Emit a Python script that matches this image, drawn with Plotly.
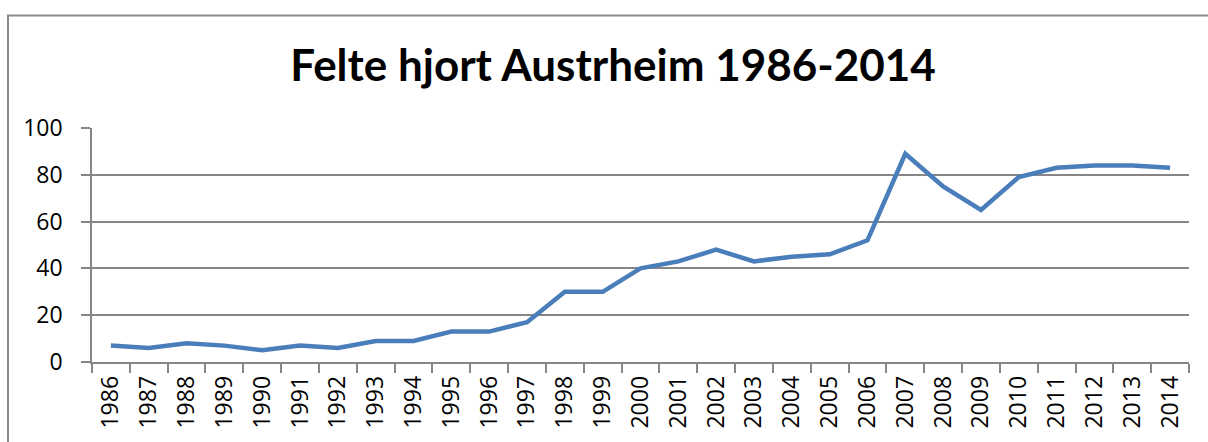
import plotly.graph_objects as go

years = [str(y) for y in range(1986, 2015)]
felte = [7, 6, 8, 7, 5, 7, 6, 9, 9, 13, 13, 17, 30, 30, 40, 43, 48, 43, 45, 46, 52, 89, 75, 65, 79, 83, 84, 84, 83]
title_text = "Felte hjort Austrheim 1986-2014"
y_ticks = [0, 20, 40, 60, 80, 100]

W, H = 1208, 442
L, R, T, B = 92, 19, 128, 80
pw, ph = W - L - R, H - T - B

grey = "#868686"
fig = go.Figure()
fig.add_trace(go.Scatter(x=years, y=felte, mode="lines",
                         line=dict(color="#4a7ebb", width=4.5, shape="linear"),
                         showlegend=False))

def px_x(p):
    return (p - L) / pw

def px_y(p):
    return 1 - (p - T) / ph

fig.update_layout(
    width=W, height=H,
    margin=dict(l=L, r=R, t=T, b=B, pad=0, autoexpand=False),
    paper_bgcolor="white", plot_bgcolor="white",
    font=dict(family="Open Sans, Liberation Sans, sans-serif", color="black", size=23),
    title=dict(text="<b>" + title_text + "</b>", x=613 / W, xanchor="center",
               y=1 - 66 / H, yanchor="middle", xref="container", yref="container",
               font=dict(family="Lato, Open Sans, sans-serif", size=44, color="black")),
    xaxis=dict(type="category", tickangle=-90, showgrid=False, showline=True,
               linecolor=grey, linewidth=1.5, ticks="outside", ticklen=9, tickcolor=grey,
               tickwidth=1.5, tickson="boundaries", range=[-0.5, len(years) - 0.5],
               tickfont=dict(size=23), zeroline=False, automargin=False,
               ticklabelstandoff=3),
    yaxis=dict(range=[0, 100], tickvals=y_ticks, showgrid=True, gridcolor=grey, gridwidth=1.5,
               showline=True, linecolor=grey, linewidth=1.5, ticks="outside", ticklen=9,
               tickcolor=grey, tickwidth=1.5, zeroline=False, ticklabelstandoff=14,
               tickfont=dict(size=23), automargin=False),
    shapes=[dict(type="rect", xref="paper", yref="paper",
                 x0=px_x(8), x1=px_x(1215), y0=px_y(450), y1=px_y(15.5),
                 line=dict(color="#8a8a8a", width=2), fillcolor="rgba(0,0,0,0)", layer="below")],
)

fig.write_html("out.html", config={"displayModeBar": False},
               post_script="document.body.style.margin='0';document.body.style.overflow='hidden';")
